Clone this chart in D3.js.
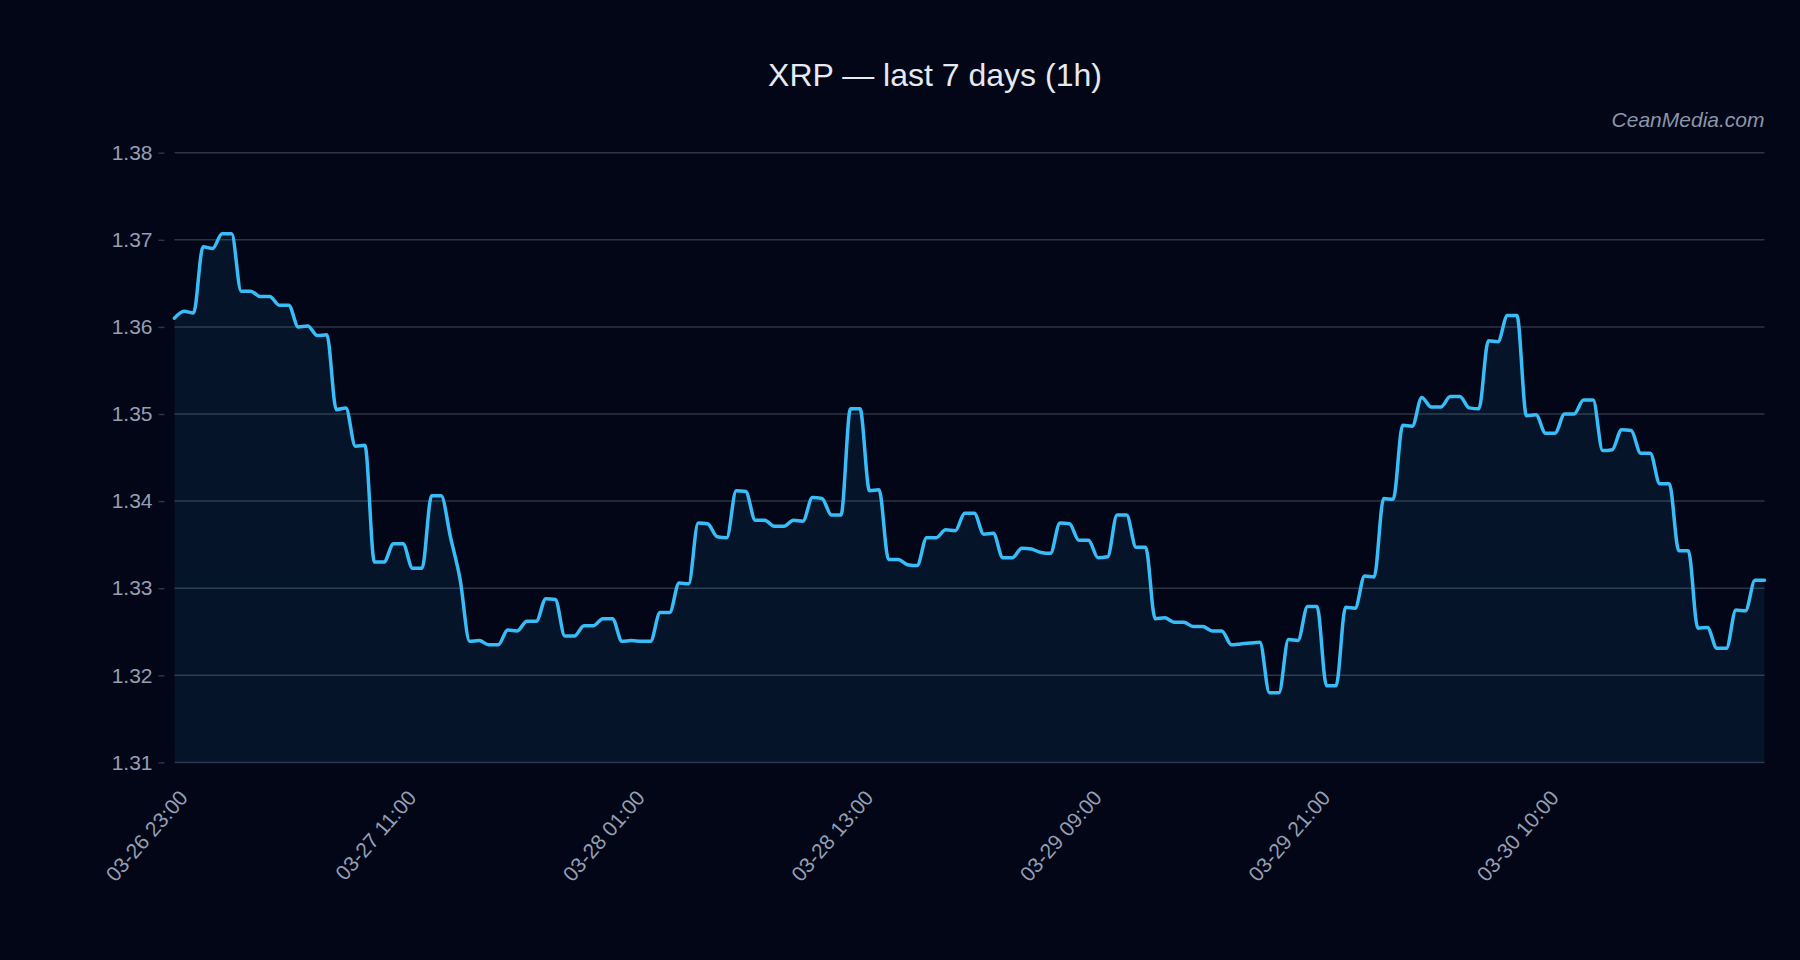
<!DOCTYPE html>
<html>
<head>
<meta charset="utf-8">
<script src="https://cdn.jsdelivr.net/npm/d3@7"></script>
<style>
  html, body { margin: 0; padding: 0; background: #020617; }
  svg { display: block; }
  text { font-family: "Liberation Sans", Arial, Helvetica, sans-serif; }
</style>
</head>
<body>
<svg id="chart" width="1800" height="960"></svg>
<script>
const titleText = "XRP — last 7 days (1h)";
const watermark = "CeanMedia.com";

// hourly closes (168 points)
const prices = [
  1.3610, 1.3618, 1.3616, 1.3692, 1.3690, 1.3707, 1.3707, 1.3641, 1.3641, 1.3635,
  1.3635, 1.3625, 1.3625, 1.3600, 1.3601, 1.3590, 1.3591, 1.3505, 1.3507, 1.3463,
  1.3464, 1.3330, 1.3330, 1.3351, 1.3351, 1.3323, 1.3323, 1.3406, 1.3406, 1.3358,
  1.3310, 1.3239, 1.3240, 1.3235, 1.3235, 1.3252, 1.3251, 1.3262, 1.3262, 1.3288,
  1.3287, 1.3245, 1.3245, 1.3257, 1.3257, 1.3265, 1.3265, 1.3239, 1.3240, 1.3239,
  1.3239, 1.3272, 1.3272, 1.3306, 1.3305, 1.3375, 1.3374, 1.3359, 1.3358, 1.3412,
  1.3411, 1.3378, 1.3378, 1.3371, 1.3371, 1.3378, 1.3377, 1.3404, 1.3403, 1.3384,
  1.3384, 1.3506, 1.3506, 1.3412, 1.3413, 1.3333, 1.3333, 1.3327, 1.3326, 1.3358,
  1.3358, 1.3367, 1.3366, 1.3386, 1.3386, 1.3362, 1.3363, 1.3335, 1.3335, 1.3346,
  1.3345, 1.3341, 1.3340, 1.3375, 1.3374, 1.3355, 1.3355, 1.3335, 1.3336, 1.3384,
  1.3384, 1.3347, 1.3347, 1.3265, 1.3266, 1.3261, 1.3261, 1.3256, 1.3256, 1.3251,
  1.3251, 1.3235, 1.3236, 1.3237, 1.3238, 1.3180, 1.3180, 1.3241, 1.3240, 1.3279,
  1.3279, 1.3188, 1.3188, 1.3278, 1.3277, 1.3314, 1.3313, 1.3403, 1.3402, 1.3487,
  1.3486, 1.3519, 1.3508, 1.3508, 1.3520, 1.3520, 1.3507, 1.3506, 1.3584, 1.3583,
  1.3613, 1.3613, 1.3498, 1.3499, 1.3478, 1.3478, 1.3500, 1.3500, 1.3516, 1.3516,
  1.3458, 1.3459, 1.3482, 1.3481, 1.3455, 1.3455, 1.3420, 1.3420, 1.3343, 1.3343,
  1.3254, 1.3255, 1.3231, 1.3231, 1.3275, 1.3274, 1.3309, 1.3309
];

const xTickLabels = ["03-26 23:00", "03-27 11:00", "03-28 01:00", "03-28 13:00",
                     "03-29 09:00", "03-29 21:00", "03-30 10:00"];
const xTickIndex = [0, 24, 48, 72, 96, 120, 144];
const yTicks = [1.31, 1.32, 1.33, 1.34, 1.35, 1.36, 1.37, 1.38];
const yDomain = [1.31, 1.38];

const W = 1800, H = 960;
const m = { left: 174.5, right: 35.5, top: 152.7, bottom: 960 - 762.4 };
const svg = d3.select("#chart");

svg.append("rect").attr("width", W).attr("height", H).attr("fill", "#020617");

const x = d3.scaleLinear().domain([0, prices.length - 1]).range([m.left, W - m.right]);
const y = d3.scaleLinear().domain(yDomain).range([H - m.bottom, m.top]);

// grid
svg.append("g").selectAll("line").data(yTicks).join("line")
  .attr("x1", m.left).attr("x2", W - m.right)
  .attr("y1", d => y(d)).attr("y2", d => y(d))
  .attr("stroke", "#2c3546").attr("stroke-width", 1.5);

// y axis
const yAxis = d3.axisLeft(y).tickValues(yTicks).tickFormat(d3.format(".2f"))
  .tickSize(6).tickPadding(6);
const gy = svg.append("g").attr("transform", `translate(${m.left - 10},0)`).call(yAxis);
gy.select(".domain").remove();
gy.selectAll(".tick line").attr("stroke", "#2c3546").attr("stroke-width", 1.5);
gy.selectAll(".tick text").attr("fill", "#959fb2").style("font-size", "21px")
  .style("font-family", "'Liberation Sans', Arial, sans-serif");

// area + line
const area = d3.area().x((d, i) => x(i)).y0(y(yDomain[0])).y1(d => y(d))
  .curve(d3.curveMonotoneX);
const line = d3.line().x((d, i) => x(i)).y(d => y(d)).curve(d3.curveMonotoneX);

svg.append("path").datum(prices).attr("d", area)
  .attr("fill", "rgba(56,189,248,0.08)");
svg.append("path").datum(prices).attr("d", line)
  .attr("fill", "none").attr("stroke", "#38bdf8").attr("stroke-width", 3.5)
  .attr("stroke-linejoin", "round").attr("stroke-linecap", "round");

// x axis
const xAxis = d3.axisBottom(x).tickValues(xTickIndex)
  .tickFormat((d, i) => xTickLabels[i]).tickSize(0).tickPadding(0);
const gx = svg.append("g").attr("transform", `translate(0,${H - m.bottom})`).call(xAxis);
gx.select(".domain").remove();
gx.selectAll(".tick text")
  .attr("fill", "#959fb2").style("font-size", "21px")
  .style("font-family", "'Liberation Sans', Arial, sans-serif")
  .attr("text-anchor", "end")
  .attr("dy", null)
  .attr("y", 0)
  .attr("transform", "translate(14,36) rotate(-49)");

// title
svg.append("text").attr("x", 935).attr("y", 86).attr("text-anchor", "middle")
  .attr("fill", "#e5e9f0").style("font-size", "32px").text(titleText);

// watermark
svg.append("text").attr("x", W - m.right).attr("y", 127).attr("text-anchor", "end")
  .attr("fill", "#8c95a8").style("font-size", "21px").style("font-style", "italic")
  .text(watermark);
</script>
</body>
</html>
